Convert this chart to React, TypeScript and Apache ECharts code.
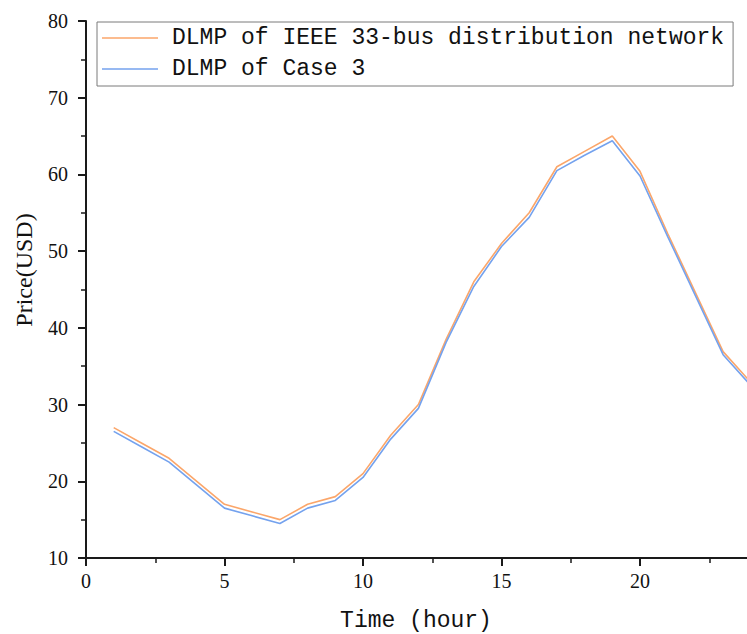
import React, { useEffect, useRef } from "react";
import * as echarts from "echarts";

const hours = [1, 2, 3, 4, 5, 6, 7, 8, 9, 10, 11, 12, 13, 14, 15, 16, 17, 18, 19, 20, 21, 22, 23, 24];
const dlmpIEEE = [27, 25, 23, 20, 17, 16, 15, 17, 18, 21, 26, 30, 38.5, 46, 51, 55, 61, 63, 65, 60.4, 52.3, 44.6, 36.9, 32.9];
const dlmpCase3 = [26.5, 24.5, 22.5, 19.5, 16.5, 15.5, 14.5, 16.5, 17.5, 20.5, 25.5, 29.5, 38.1, 45.4, 50.6, 54.4, 60.5, 62.5, 64.4, 59.8, 51.9, 44.2, 36.5, 32.5];
const seriesNames = ["DLMP of IEEE 33-bus distribution network", "DLMP of Case 3"];
const xAxisTitle = "Time (hour)";
const yAxisTitle = "Price(USD)";

export default function App() {
  const ref = useRef<HTMLDivElement>(null);
  useEffect(() => {
    if (!ref.current) return;
    const chart = echarts.init(ref.current, null, { renderer: "svg" });
    const axisColor = "#1a1a1a";
    chart.setOption({
      animation: false,
      backgroundColor: "#ffffff",
      grid: {
        left: 86,
        top: 21,
        width: 692.5,
        height: 537,
        containLabel: false,
        outerBoundsMode: "none",
      },
      legend: {
        orient: "vertical",
        left: 97,
        top: 22,
        padding: [1, 9, 2, 5],
        itemGap: 1,
        itemWidth: 56,
        itemHeight: 1.5,
        icon: "rect",
        borderColor: "#7a7a7a",
        borderWidth: 1,
        textStyle: {
          fontFamily: "Liberation Mono",
          fontSize: 23,
          color: "#111",
          lineHeight: 30,
          padding: [0, 0, 0, 9],
        },
        data: seriesNames,
      },
      xAxis: {
        type: "value",
        min: 0,
        max: 25,
        interval: 5,
        axisLine: { show: true, lineStyle: { color: axisColor, width: 2 } },
        axisTick: { show: true, length: 8, lineStyle: { color: axisColor, width: 2 } },
        minorTick: { show: true, splitNumber: 2, length: 5, lineStyle: { color: axisColor, width: 1.5 } },
        splitLine: { show: false },
        axisLabel: {
          margin: 13,
          fontFamily: "Liberation Serif",
          fontSize: 20,
          color: "#111",
          showMaxLabel: false,
        },
      },
      yAxis: {
        type: "value",
        min: 10,
        max: 80,
        interval: 10,
        axisLine: { show: true, lineStyle: { color: axisColor, width: 2 } },
        axisTick: { show: true, length: 8, lineStyle: { color: axisColor, width: 2 } },
        minorTick: { show: true, splitNumber: 2, length: 5, lineStyle: { color: axisColor, width: 1.5 } },
        splitLine: { show: false },
        axisLabel: {
          margin: 18,
          fontFamily: "Liberation Serif",
          fontSize: 20,
          color: "#111",
        },
      },
      graphic: [
        {
          type: "text",
          x: 416,
          y: 621,
          style: {
            text: xAxisTitle,
            fontFamily: "Liberation Mono",
            fontSize: 23,
            fill: "#111",
            textAlign: "center",
            textVerticalAlign: "middle",
          },
        },
        {
          type: "text",
          x: 24,
          y: 270,
          rotation: Math.PI / 2,
          style: {
            text: yAxisTitle,
            fontFamily: "Liberation Serif",
            fontSize: 24,
            fill: "#111",
            textAlign: "center",
            textVerticalAlign: "middle",
          },
        },
      ],
      series: [
        {
          name: seriesNames[0],
          type: "line",
          data: hours.map((h, i) => [h, dlmpIEEE[i]]),
          showSymbol: false,
          symbol: "none",
          lineStyle: { color: "#FBA66A", width: 1.6 },
          itemStyle: { color: "#FBA66A" },
        },
        {
          name: seriesNames[1],
          type: "line",
          data: hours.map((h, i) => [h, dlmpCase3[i]]),
          showSymbol: false,
          symbol: "none",
          lineStyle: { color: "#74A2EE", width: 1.6 },
          itemStyle: { color: "#74A2EE" },
        },
      ],
    });
    return () => chart.dispose();
  }, []);
  return (
    <div
      ref={ref}
      style={{ position: "fixed", left: 0, top: 0, width: 747, height: 634, overflow: "hidden" }}
    />
  );
}
